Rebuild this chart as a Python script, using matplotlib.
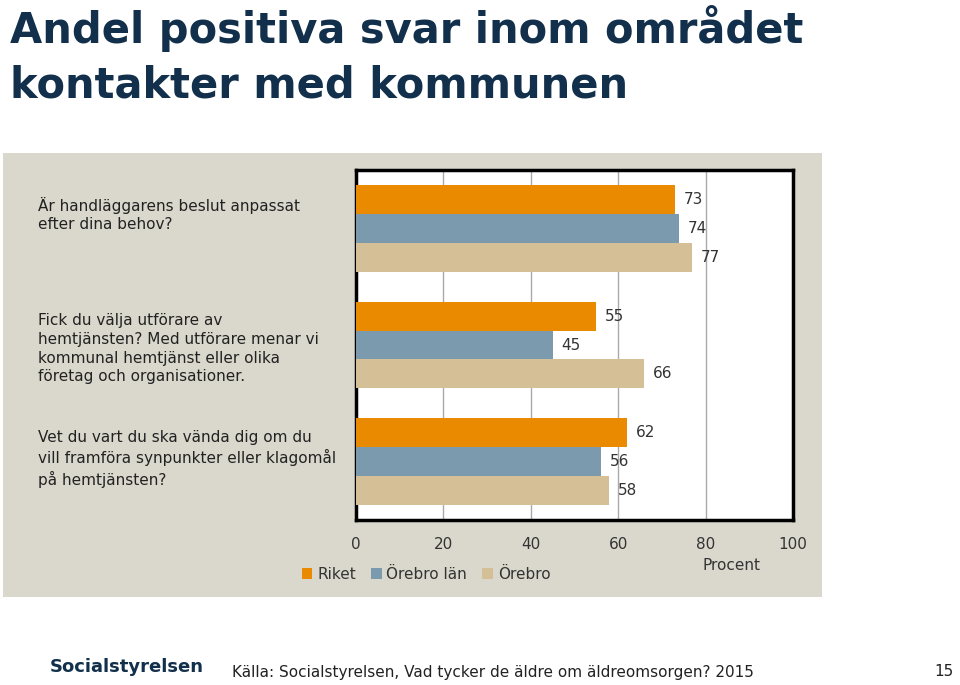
import matplotlib.pyplot as plt
from matplotlib.patches import Rectangle, Patch
from matplotlib.transforms import blended_transform_factory
import numpy as np

plt.rcParams['font.family'] = ['DejaVu Sans']

# ── Data ───────────────────────────────────────────────────────────────
questions = [
    'Är handläggarens beslut anpassat\nefter dina behov?',
    'Fick du välja utförare av\nhemtjänsten? Med utförare menar vi\nkommunal hemtjänst eller olika\nföretag och organisationer.',
    'Vet du vart du ska vända dig om du\nvill framföra synpunkter eller klagomål\npå hemtjänsten?',
]
series_names = ['Riket', 'Örebro län', 'Örebro']
riket      = [73, 55, 62]
orebro_lan = [74, 45, 56]
orebro     = [77, 66, 58]
x_ticks    = [0, 20, 40, 60, 80, 100]

colors = ['#EA8A00', '#7C9AAE', '#D4BF96']
navy = '#12304B'
panel = '#DAD8CC'

fig = plt.figure(figsize=(9.6, 6.85), dpi=100)
fig.patch.set_facecolor('white')

# grå bakgrundspanel
fig.patches.append(Rectangle((3 / 960, 1 - 597 / 685), 819 / 960, 444 / 685,
                             transform=fig.transFigure, facecolor=panel,
                             edgecolor='none', zorder=-5))

ax = fig.add_axes([356 / 960, 1 - 520 / 685, 437 / 960, 350 / 685])
ax.set_zorder(2)
ax.set_facecolor('white')

y = np.arange(len(questions))
h = 0.248
for i, (vals, c) in enumerate(zip([riket, orebro_lan, orebro], colors)):
    pos = y + (i - 1) * h
    ax.barh(pos, vals, height=h, color=c, zorder=3, label=series_names[i])
    for p, v in zip(pos, vals):
        ax.text(v + 2, p, str(v), va='center', ha='left', fontsize=11,
                color='#333333', zorder=4)

ax.set_xlim(0, 100)
ax.set_ylim(2.5, -0.5)
ax.set_xticks(x_ticks)
ax.set_xticklabels([str(t) for t in x_ticks], fontsize=11, color='#333333')
ax.set_yticks([])
ax.tick_params(axis='x', length=0, pad=12)
ax.grid(True, axis='x', color='#AAAAAA', linewidth=1, zorder=0)
for s in ax.spines.values():
    s.set_linewidth(2.5)
    s.set_color('black')

# frågetexter till vänster
trans = blended_transform_factory(fig.transFigure, ax.transData)
for yi, q in zip(y, questions):
    ax.text(38 / 960, yi - 0.27, q, transform=trans, ha='left', va='top',
            fontsize=11, color='#222222', linespacing=1.3, clip_on=False)

ax.text(0.86, -0.13, 'Procent', transform=ax.transAxes, ha='center',
        va='center', fontsize=11, color='#333333')

handles = [Patch(facecolor=c, edgecolor='none', label=n)
           for c, n in zip(colors, series_names)]
fig.legend(handles=handles, loc='center left', bbox_to_anchor=(288 / 960, 1 - 574 / 685),
           ncol=3, frameon=False, fontsize=11, handlelength=0.7, handleheight=0.7,
           handletextpad=0.3, columnspacing=1.0, labelcolor='#333333')

# titel
fig.text(10 / 960, 1 - 28 / 685, 'Andel positiva svar inom området',
         fontsize=30, fontweight='bold', color=navy, ha='left', va='center')
fig.text(10 / 960, 1 - 86 / 685, 'kontakter med kommunen',
         fontsize=30, fontweight='bold', color=navy, ha='left', va='center')

# sidfot
fig.text(50 / 960, 1 - 667 / 685, 'Socialstyrelsen', fontsize=13,
         fontweight='bold', color=navy, ha='left', va='center')
fig.text(232 / 960, 1 - 672 / 685,
         'Källa: Socialstyrelsen, Vad tycker de äldre om äldreomsorgen? 2015',
         fontsize=11, color='#222222', ha='left', va='center')
fig.text(954 / 960, 1 - 672 / 685, '15', fontsize=11, color='#222222',
         ha='right', va='center')

plt.savefig('out.png', dpi=100)
